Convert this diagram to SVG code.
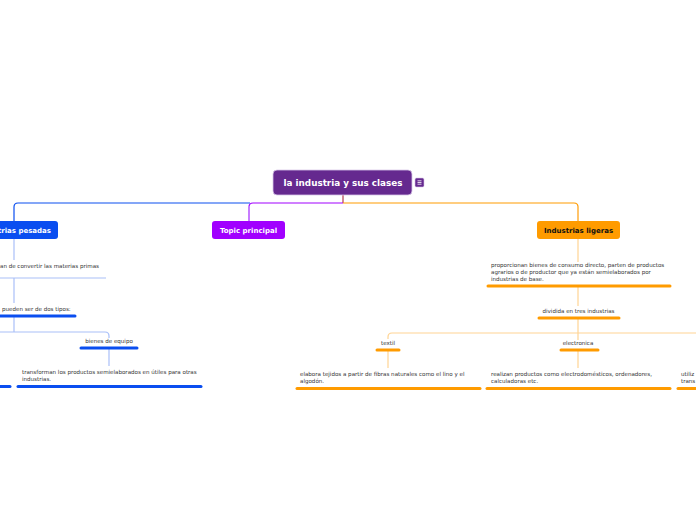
<svg xmlns="http://www.w3.org/2000/svg" width="696" height="520" viewBox="0 0 696 520">
<style>
.t{font-family:"DejaVu Sans",Verdana,sans-serif;font-size:5.55px;fill:#333}
.b{font-family:"DejaVu Sans",Verdana,sans-serif;font-weight:bold;text-anchor:middle}
.lb{fill:none;stroke:#a9bff8;stroke-width:1.2}
.lo{fill:none;stroke:#ffd493;stroke-width:1.2}
.ub{stroke:#0a4ef0;stroke-width:3;stroke-linecap:round}
.uo{stroke:#ff9b00;stroke-width:3;stroke-linecap:round}
</style>
<rect width="696" height="520" fill="#fff"/>
<g id="connectors">
<path d="M343 195V203" stroke="#c2646f" stroke-width="1.5" fill="none"/>
<path d="M250 203H18Q14 203 14 207V221" stroke="#0a4ef0" stroke-width="1.2" fill="none"/>
<path d="M343 203H253Q249 203 249 207V221" stroke="#a100ff" stroke-width="1.2" fill="none"/>
<path d="M249 206V221" stroke="#c98cff" stroke-width="1.2" fill="none"/>
<path d="M343 203H574Q578 203 578 207V221" stroke="#ff9b00" stroke-width="1.2" fill="none"/>
<path d="M578 206V221" stroke="#ffc46e" stroke-width="1.2" fill="none"/>
<path class="lb" d="M14 239V260"/>
<path class="lb" d="M0 278H106"/>
<path class="lb" d="M14 278V303"/>
<path class="lb" d="M14 315V332"/>
<path class="lb" d="M0 332H105Q109 332 109 336V338"/>
<path class="lb" d="M109 348V366"/>
<path class="lo" d="M578 239V262"/>
<path class="lo" d="M578 286V306"/>
<path class="lo" d="M578 318V340"/>
<path class="lo" d="M696 333H392Q388 333 388 337V339"/>
<path class="lo" d="M388 350V368"/>
<path class="lo" d="M578 350V368"/>
</g>
<g id="root">
<rect x="273" y="170" width="139" height="25" rx="4" fill="#65298f" stroke="#d8c8e8" stroke-width="0.8"/>
<text class="b" x="343" y="186" font-size="8.8" fill="#fff">la industria y sus clases</text>
<rect x="415" y="178" width="9" height="9" rx="1.5" fill="#65298f" stroke="#d8c8e8" stroke-width="0.6"/>
<path d="M417.5 180.8H421.5M417.5 182.5H421.5M417.5 184.2H421.5" stroke="#fff" stroke-width="0.8"/>
</g>
<g id="pesadas">
<rect x="-40" y="221" width="98" height="18" rx="3" fill="#0a4ef0"/>
<text class="b" x="51" y="233" font-size="7" fill="#fff" text-anchor="end" style="text-anchor:end">Industrias pesadas</text>
</g>
<g id="topic">
<rect x="212" y="221" width="73" height="18" rx="3" fill="#a100ff"/>
<text class="b" x="248.5" y="233" font-size="7" fill="#fff">Topic principal</text>
</g>
<g id="ligeras">
<rect x="537" y="221" width="83" height="18" rx="3" fill="#ff9b00"/>
<text class="b" x="578.5" y="233" font-size="7" fill="#111">Industrias ligeras</text>
</g>
<g id="convertir">
<text class="t" x="0" y="268">an de convertir las materias primas</text>
</g>
<g id="dos-tipos">
<text class="t" x="2" y="311">pueden ser de dos tipos:</text>
<line class="ub" x1="0" y1="316" x2="75" y2="316"/>
</g>
<g id="bienes-equipo">
<text class="t" x="109" y="343" text-anchor="middle">bienes de equipo</text>
<line class="ub" x1="81" y1="348" x2="137" y2="348"/>
</g>
<g id="transforman">
<text class="t" x="22" y="374">transforman los productos semielaborados en útiles para otras</text>
<text class="t" x="22" y="381">industrias.</text>
<line class="ub" x1="18" y1="386.5" x2="201" y2="386.5"/>
</g>
<g id="left-cut">
<line class="ub" x1="0" y1="386.5" x2="10" y2="386.5"/>
</g>
<g id="proporcionan">
<text class="t" x="491" y="267">proporcionan bienes de consumo directo, parten de productos</text>
<text class="t" x="491" y="274">agrarios o de productor que ya están semielaborados por</text>
<text class="t" x="491" y="281">industrias de base.</text>
<line class="uo" x1="488" y1="286" x2="670" y2="286"/>
</g>
<g id="dividida">
<text class="t" x="578.5" y="312.5" text-anchor="middle">dividida en tres industrias</text>
<line class="uo" x1="539" y1="318" x2="619" y2="318"/>
</g>
<g id="textil">
<text class="t" x="388" y="345" text-anchor="middle">textil</text>
<line class="uo" x1="377" y1="350" x2="399" y2="350"/>
</g>
<g id="electronica">
<text class="t" x="578" y="345" text-anchor="middle">electronica</text>
<line class="uo" x1="561" y1="350" x2="598" y2="350"/>
</g>
<g id="tejidos">
<text class="t" x="300" y="376">elabora tejidos a partir de fibras naturales como el lino y el</text>
<text class="t" x="300" y="383">algodón.</text>
<line class="uo" x1="297" y1="388.5" x2="480" y2="388.5"/>
</g>
<g id="realizan">
<text class="t" x="491" y="376">realizan productos como electrodomésticos, ordenadores,</text>
<text class="t" x="491" y="383">calculadoras etc.</text>
<line class="uo" x1="487" y1="388.5" x2="670" y2="388.5"/>
</g>
<g id="third">
<text class="t" x="681" y="376">utiliz</text>
<text class="t" x="681" y="383">trans</text>
<line class="uo" x1="678" y1="388.5" x2="697" y2="388.5"/>
</g>
</svg>
